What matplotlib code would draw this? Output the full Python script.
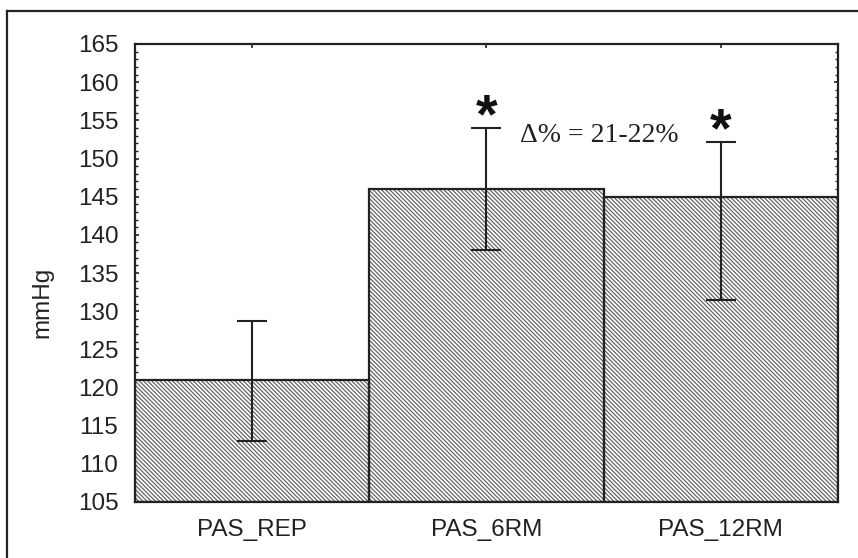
import matplotlib
matplotlib.use("Agg")
import matplotlib.pyplot as plt
import numpy as np
from matplotlib.ticker import MultipleLocator
from matplotlib.lines import Line2D

categories = ["PAS_REP", "PAS_6RM", "PAS_12RM"]
means = [121.0, 146.0, 144.9]
err_low = [113.0, 138.0, 131.4]
err_high = [128.7, 154.0, 152.2]
yticks = [105, 110, 115, 120, 125, 130, 135, 140, 145, 150, 155, 160, 165]
significant = [False, True, True]
note = "\u0394% = 21-22%"

plt.rcParams["font.family"] = ["Liberation Sans", "DejaVu Sans"]
plt.rcParams["hatch.linewidth"] = 0.9

fig = plt.figure(figsize=(8.58, 5.58), dpi=100)
ax = fig.add_axes([135 / 858, 1 - 502 / 558, 703 / 858, 458 / 558])

x = np.arange(len(categories))
m = np.array(means)
lo = m - np.array(err_low)
hi = np.array(err_high) - m

# hatched fill, then black outline on top
ax.bar(x, m - 105, bottom=105, width=1.0, color="white", edgecolor="#666666",
       hatch="\\" * 8, linewidth=0, zorder=2)
ax.bar(x, m - 105, bottom=105, width=1.0, fill=False, edgecolor="#222222",
       linewidth=1.6, zorder=3)
ax.errorbar(x, m, yerr=[lo, hi], fmt="none", ecolor="#222222", elinewidth=1.5,
            capsize=11, capthick=1.5, zorder=4)

for xi, up, sig in zip(x, err_high, significant):
    if sig:
        ax.text(xi, up - 0.6, "*", ha="center", va="baseline", fontsize=40,
                fontweight="bold", color="#111111", zorder=5)

ax.text(1.143, 152.2, note, family=["Liberation Serif", "DejaVu Serif"],
        fontsize=20, ha="left", va="baseline", color="#222222")

ax.set_xlim(-0.5, 2.5)
ax.set_ylim(105, 165)
ax.set_xticks(x)
ax.set_xticklabels(categories)
ax.set_yticks(yticks)
ax.yaxis.set_minor_locator(MultipleLocator(1))
ax.tick_params(axis="both", which="major", direction="in", length=3, width=1.2,
               labelsize=17.5, colors="#222222", top=True, right=True)
ax.tick_params(axis="y", which="minor", direction="in", length=2, width=1.0,
               right=True, colors="#222222")
ax.tick_params(axis="y", which="major", pad=12)
ax.tick_params(axis="x", which="major", pad=12)
for s in ax.spines.values():
    s.set_linewidth(1.6)
    s.set_color("#222222")

ax.set_ylabel("mmHg", fontsize=17.5, color="#222222")
ax.yaxis.set_label_coords(-0.1155, 0.435)

# outer frame (left and top edges visible)
fig.add_artist(Line2D([7 / 858, 7 / 858], [0, 1 - 11 / 558], transform=fig.transFigure,
                      color="#222222", linewidth=1.6))
fig.add_artist(Line2D([7 / 858, 1], [1 - 11 / 558, 1 - 11 / 558], transform=fig.transFigure,
                      color="#222222", linewidth=1.6))

fig.savefig("out.png", dpi=100)
